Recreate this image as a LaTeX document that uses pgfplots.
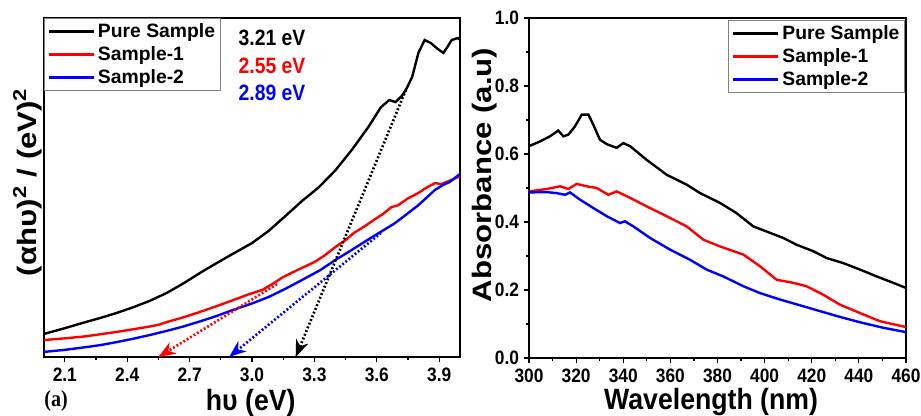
\documentclass[border=0pt]{standalone}
\usepackage{pgfplots}
\pgfplotsset{compat=1.18}
\usepackage{fontspec}
\setmainfont{Liberation Sans}
\newfontfamily\serifb{Liberation Serif}
\usetikzlibrary{arrows.meta}

\pgfplotsset{
  panel/.style={
    scale only axis, anchor=south west,
    axis line style={line width=1pt},
    tick align=outside, tick pos=left,
    major tick length=4pt, minor tick length=2.5pt,
    every tick/.style={black, line width=0.9pt},
    /pgf/number format/assume math mode=true,
    tick label style={font=\fontsize{13}{13}\selectfont\bfseries, yscale=1.12},
    legend style={draw=gray, line width=0.6pt,
      font=\fontsize{14.5}{17}\selectfont\bfseries,
      inner xsep=2pt, inner ysep=1.5pt, row sep=1.5pt},
    legend cell align=left,
    legend image code/.code={\draw[#1, line width=2.2pt] (0pt,0pt) -- (34pt,0pt);},
    xlabel style={font=\fontsize{20}{20}\selectfont\bfseries, yscale=1.1, anchor=center},
    ylabel style={font=\fontsize{20}{20}\selectfont\bfseries, xscale=1.17, anchor=center},
  },
  curve/.style={line width=1.8pt},
  fitline/.style={line width=2pt, dash pattern=on 1.4pt off 1.6pt, -{Stealth[length=13pt,width=10pt,line width=0pt]}},
}

\begin{document}
\begin{tikzpicture}
\path[use as bounding box] (0pt,0pt) rectangle (690.75pt,312pt);

% ---------------- (a) ----------------
\begin{axis}[panel,
  at={(33pt,44.25pt)}, width=312pt, height=254.25pt,
  xmin=2.0, xmax=4.0, ymin=0, ymax=1,
  xtick={2.1,2.4,2.7,3.0,3.3,3.6,3.9}, minor x tick num=1,
  ytick=\empty,
  xticklabel style={/pgf/number format/fixed, /pgf/number format/fixed zerofill, /pgf/number format/precision=1},
  clip=false,
  xlabel={h\symbol{"03C5} (eV)},
  ylabel={(\symbol{"03B1}h\symbol{"03C5})\textsuperscript{2} / (eV)\textsuperscript{2}},
  xlabel style={at={(axis description cs:0.497,-0.135)}},
  ylabel style={at={(axis description cs:-0.040,0.516)}},
  legend style={at={(0,1)}, anchor=north west},
]
\addplot[curve, black] coordinates {
(2.00,0.068) (2.10,0.085) (2.20,0.103) (2.27,0.115) (2.35,0.130) (2.43,0.147)
(2.51,0.166) (2.59,0.189) (2.67,0.217) (2.75,0.248) (2.83,0.277) (2.91,0.305)
(3.00,0.336) (3.08,0.372) (3.15,0.410) (3.24,0.460) (3.32,0.500) (3.40,0.550)
(3.48,0.611) (3.56,0.679) (3.62,0.737) (3.66,0.758) (3.69,0.752) (3.72,0.770)
(3.74,0.788) (3.77,0.826) (3.80,0.897) (3.83,0.935) (3.86,0.926) (3.89,0.910)
(3.92,0.897) (3.94,0.915) (3.96,0.935) (3.99,0.941) (4.00,0.935)};
\addlegendentry{Pure Sample}
\addplot[curve, red] coordinates {
(2.00,0.050) (2.10,0.055) (2.20,0.061) (2.27,0.067) (2.35,0.074) (2.43,0.082)
(2.50,0.089) (2.55,0.095) (2.59,0.103) (2.67,0.117) (2.75,0.133) (2.83,0.150)
(2.91,0.168) (2.98,0.184) (3.05,0.198) (3.10,0.216) (3.15,0.236) (3.22,0.257)
(3.30,0.280) (3.35,0.300) (3.40,0.324) (3.45,0.345) (3.49,0.366) (3.54,0.385)
(3.59,0.406) (3.63,0.422) (3.67,0.442) (3.70,0.447) (3.75,0.468) (3.80,0.484)
(3.84,0.500) (3.88,0.513) (3.91,0.510) (3.95,0.520) (4.00,0.533)};
\addlegendentry{Sample-1}
\addplot[curve, blue] coordinates {
(2.00,0.015) (2.10,0.021) (2.20,0.029) (2.27,0.035) (2.35,0.044) (2.43,0.054)
(2.51,0.065) (2.59,0.077) (2.67,0.090) (2.75,0.105) (2.83,0.121) (2.91,0.139)
(3.00,0.158) (3.08,0.177) (3.16,0.201) (3.24,0.227) (3.33,0.257) (3.40,0.286)
(3.48,0.316) (3.56,0.347) (3.64,0.377) (3.68,0.392) (3.72,0.410) (3.80,0.448)
(3.88,0.493) (3.92,0.508) (3.95,0.516) (4.00,0.540)};
\addlegendentry{Sample-2}
\addplot[black, fitline] coordinates {(3.74,0.788) (3.21,0.0)};
\addplot[red, fitline] coordinates {(3.12,0.215) (2.55,0.0)};
\addplot[blue, fitline] coordinates {(3.62,0.366) (2.89,0.0)};
\node[font=\fontsize{14.5}{14.5}\selectfont\bfseries, yscale=1.15, black] at (axis description cs:0.548,0.942) {3.21 eV};
\node[font=\fontsize{14.5}{14.5}\selectfont\bfseries, yscale=1.15, red] at (axis description cs:0.548,0.858) {2.55 eV};
\node[font=\fontsize{14.5}{14.5}\selectfont\bfseries, yscale=1.15, blue] at (axis description cs:0.548,0.780) {2.89 eV};
\node[font=\fontsize{15}{15}\selectfont\serifb\bfseries, yscale=1.15] at (axis description cs:0.029,-0.13) {(a)};
\end{axis}

% ---------------- (b) ----------------
\begin{axis}[panel,
  at={(396.75pt,43.5pt)}, width=282.75pt, height=255pt,
  xmin=300, xmax=460, ymin=0, ymax=1.0,
  xtick={300,320,...,460}, minor x tick num=1,
  ytick={0,0.2,0.4,0.6,0.8,1.0}, minor y tick num=1,
  yticklabel style={/pgf/number format/fixed, /pgf/number format/fixed zerofill, /pgf/number format/precision=1},
  xlabel={Wavelength (nm)},
  ylabel={Absorbance (a.u)},
  xlabel style={at={(axis description cs:0.483,-0.13)}},
  ylabel style={at={(axis description cs:-0.117,0.538)}},
  legend style={at={(0.998,0.994)}, anchor=north east},
]
\addplot[curve, black] coordinates {
(300,0.623) (304.7,0.637) (308.9,0.652) (312.4,0.669) (314.6,0.652) (316.7,0.657)
(319.5,0.681) (322.4,0.716) (325.2,0.716) (327.3,0.686) (330.1,0.642) (333.0,0.629)
(337.2,0.618) (340.0,0.632) (342.9,0.623) (349.9,0.583) (358.4,0.539) (366.9,0.510)
(372.6,0.485) (381.1,0.456) (388.1,0.426) (395.2,0.387) (402.3,0.368) (407.9,0.353)
(413.6,0.333) (420.7,0.314) (426.3,0.294) (433.4,0.279) (440.5,0.260) (447.5,0.240)
(454.6,0.221) (460,0.206)};
\addlegendentry{Pure Sample}
\addplot[curve, red] coordinates {
(300,0.490) (307.5,0.497) (313.2,0.505) (316.7,0.497) (320.2,0.512) (324.5,0.505)
(328.7,0.500) (333.7,0.480) (337.2,0.490) (342.9,0.471) (349.9,0.446) (358.4,0.417)
(366.9,0.387) (374.0,0.348) (381.1,0.328) (391.0,0.304) (398.0,0.270) (405.1,0.230)
(412.2,0.221) (417.8,0.211) (424.9,0.186) (431.9,0.157) (440.5,0.132) (449.0,0.108)
(460,0.091)};
\addlegendentry{Sample-1}
\addplot[curve, blue] coordinates {
(300,0.487) (307.5,0.488) (311.7,0.485) (315.3,0.480) (317.4,0.487) (321.6,0.466)
(327.3,0.441) (333.0,0.417) (338.6,0.397) (340.7,0.402) (344.3,0.387) (351.4,0.353)
(359.8,0.319) (368.3,0.289) (375.4,0.260) (382.4,0.240) (391.0,0.211) (398.0,0.191)
(406.5,0.172) (415.0,0.155) (423.4,0.138) (431.9,0.121) (440.5,0.105) (450.3,0.089)
(460,0.076)};
\addlegendentry{Sample-2}
\node[font=\fontsize{15}{15}\selectfont\serifb\bfseries, yscale=1.15] at (axis description cs:0.019,-0.118) {(b)};
\end{axis}
\end{tikzpicture}
\end{document}
